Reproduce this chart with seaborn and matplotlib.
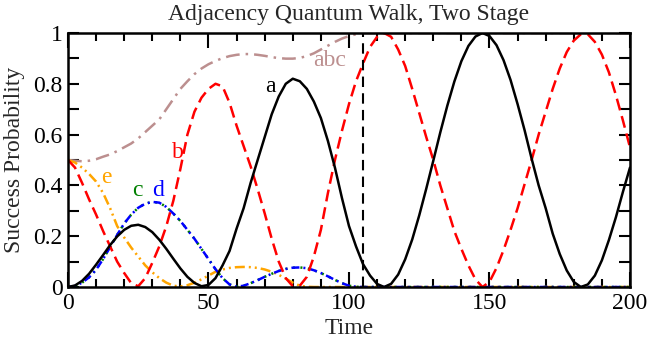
import numpy as np
import pandas as pd
import matplotlib
matplotlib.use("Agg")
import matplotlib.pyplot as plt
from matplotlib.ticker import MultipleLocator, FuncFormatter
import seaborn as sns

# time grid (step 2.5) and curves
time = np.arange(0, 200.1, 2.5)

a = [0.0, 0.006, 0.024, 0.052, 0.088, 0.126, 0.165, 0.199, 0.225, 0.241,
     0.245, 0.236, 0.216, 0.186, 0.150, 0.111, 0.073, 0.040, 0.016, 0.003,
     0.008, 0.035, 0.085, 0.142, 0.23, 0.31, 0.41, 0.50, 0.59, 0.68,
     0.75, 0.80, 0.82, 0.81, 0.78, 0.73, 0.665, 0.575, 0.47, 0.35,
     0.24, 0.16, 0.09, 0.045, 0.012, 0.0, 0.0125, 0.049, 0.109, 0.187,
     0.282, 0.387, 0.497, 0.609, 0.714, 0.809, 0.889, 0.949, 0.986, 1.0,
     0.988, 0.952, 0.893, 0.815, 0.72, 0.617, 0.505, 0.40, 0.31, 0.21,
     0.13, 0.065, 0.02, 0.0, 0.01, 0.045, 0.105, 0.185, 0.275, 0.375,
     0.47]

b = [0.5, 0.47, 0.41, 0.345, 0.285, 0.22, 0.16, 0.10, 0.055, 0.015,
     0.003, 0.035, 0.095, 0.16, 0.24, 0.34, 0.465, 0.60, 0.69, 0.745,
     0.78, 0.80, 0.79, 0.725, 0.635, 0.555, 0.475, 0.385, 0.29, 0.19,
     0.10, 0.035, 0.003, 0.005, 0.04, 0.12, 0.225, 0.37, 0.50, 0.615,
     0.72, 0.81, 0.88, 0.945, 0.985, 1.0, 0.985, 0.935, 0.87, 0.78,
     0.685, 0.59, 0.5, 0.40, 0.31, 0.22, 0.15, 0.085, 0.03, 0.0,
     0.02, 0.075, 0.145, 0.225, 0.31, 0.405, 0.5, 0.60, 0.69, 0.78,
     0.86, 0.925, 0.97, 0.995, 0.995, 0.965, 0.915, 0.845, 0.755, 0.655,
     0.55]

c = [0.0, 0.004, 0.017, 0.038, 0.068, 0.11, 0.157, 0.205, 0.25, 0.285,
     0.312, 0.328, 0.335, 0.332, 0.315, 0.289, 0.26, 0.225, 0.19, 0.15,
     0.11, 0.07, 0.035, 0.01, 0.001, 0.005, 0.015, 0.027, 0.04, 0.052,
     0.063, 0.071, 0.076, 0.077, 0.074, 0.066, 0.055, 0.042, 0.028, 0.015,
     0.005, 0.001, 0.0, 0.0, 0.0, 0.0, 0.0, 0.0, 0.0, 0.0,
     0.0, 0.0, 0.0, 0.0, 0.0, 0.0, 0.0, 0.0, 0.0, 0.0,
     0.0, 0.0, 0.0, 0.0, 0.0, 0.0, 0.0, 0.0, 0.0, 0.0,
     0.0, 0.0, 0.0, 0.0, 0.0, 0.0, 0.0, 0.0, 0.0, 0.0,
     0.0]

d = list(c)  # c and d lie on top of each other

e = [0.5, 0.49, 0.47, 0.445, 0.415, 0.37, 0.31, 0.24, 0.195, 0.155,
     0.12, 0.085, 0.058, 0.035, 0.017, 0.005, 0.002, 0.007, 0.017, 0.03,
     0.045, 0.06, 0.069, 0.075, 0.078, 0.079, 0.078, 0.075, 0.069, 0.06,
     0.048, 0.033, 0.017, 0.005, 0.001, 0.0, 0.0, 0.0, 0.0, 0.0,
     0.0, 0.0, 0.0, 0.0, 0.0, 0.0, 0.0, 0.0, 0.0, 0.0,
     0.0, 0.0, 0.0, 0.0, 0.0, 0.0, 0.0, 0.0, 0.0, 0.0,
     0.0, 0.0, 0.0, 0.0, 0.0, 0.0, 0.0, 0.0, 0.0, 0.0,
     0.0, 0.0, 0.0, 0.0, 0.0, 0.0, 0.0, 0.0, 0.0, 0.0,
     0.0]

abc = [0.5, 0.497, 0.495, 0.497, 0.503, 0.513, 0.522, 0.535, 0.55, 0.565,
       0.585, 0.61, 0.635, 0.66, 0.70, 0.74, 0.78, 0.81, 0.838, 0.86,
       0.877, 0.89, 0.901, 0.909, 0.914, 0.917, 0.917, 0.914, 0.91, 0.905,
       0.901, 0.899, 0.899, 0.902, 0.909, 0.92, 0.935, 0.95, 0.965, 0.978,
       0.988, 0.995, 1.0, 1.0, 1.0, 1.0, 1.0, 1.0, 1.0, 1.0,
       1.0, 1.0, 1.0, 1.0, 1.0, 1.0, 1.0, 1.0, 1.0, 1.0,
       1.0, 1.0, 1.0, 1.0, 1.0, 1.0, 1.0, 1.0, 1.0, 1.0,
       1.0, 1.0, 1.0, 1.0, 1.0, 1.0, 1.0, 1.0, 1.0, 1.0,
       1.0]

stage_switch = 105

curves = {"abc": abc, "e": e, "c": c, "d": d, "b": b, "a": a}
colors = {"abc": "#bc8f8f", "e": "#ffa500", "c": "#008000",
          "d": "#0000ff", "b": "#ff0000", "a": "black"}
dash_map = {"abc": (5.5, 2.4, 1.0, 2.4), "e": (4, 1.6, 0.8, 1.6, 0.8, 1.6),
            "c": (0.8, 2.2), "d": (3.2, 1.6, 0.8, 1.6), "b": (4.8, 2.4), "a": ""}

df = pd.concat([pd.DataFrame({"Time": time, "P": v, "curve": k})
                for k, v in curves.items()], ignore_index=True)

sns.set_style("ticks")
plt.rcParams["font.family"] = ["Liberation Serif", "DejaVu Serif"]

fig = plt.figure(figsize=(6.5, 3.39), dpi=100)
ax = fig.add_axes([0.1046, 0.1534, 0.8646, 0.7493])

sns.lineplot(data=df, x="Time", y="P", hue="curve", style="curve",
             hue_order=list(curves), style_order=list(curves),
             palette=colors, dashes=dash_map, linewidth=1.8,
             legend=False, ax=ax)

ax.axvline(stage_switch, color="black", lw=1.5, ls=(0, (5, 3)))

ax.set_xlim(0, 200)
ax.set_ylim(0, 1)
ax.xaxis.set_major_locator(MultipleLocator(50))
ax.xaxis.set_minor_locator(MultipleLocator(10))
ax.yaxis.set_major_locator(MultipleLocator(0.2))
ax.yaxis.set_minor_locator(MultipleLocator(0.1))
ax.yaxis.set_major_formatter(FuncFormatter(lambda v, _: f"{v:g}"))
ax.tick_params(which="both", direction="in", top=True, right=True,
               labelsize=17, width=1.5, color="black", labelcolor="black")
ax.tick_params(axis="x", which="major", length=11, pad=4)
ax.tick_params(axis="x", which="minor", length=6)
ax.tick_params(axis="y", which="both", length=8, pad=4)
for s in ax.spines.values():
    s.set_linewidth(1.8)
    s.set_color("black")

ax.set_xlabel("Time", fontsize=17, labelpad=3)
ax.set_ylabel("Success Probability", fontsize=17, labelpad=6)
ax.set_title("Adjacency Quantum Walk, Two Stage", fontsize=17, pad=9)

labels = [("a", 72.2, 0.79), ("b", 39.1, 0.53), ("c", 24.6, 0.38),
          ("d", 32.0, 0.38), ("e", 13.5, 0.43), ("abc", 93.2, 0.89)]
for name, tx, ty in labels:
    ax.text(tx, ty, name, color=colors[name], fontsize=17,
            ha="center", va="center")

fig.savefig("out.png", dpi=100)
